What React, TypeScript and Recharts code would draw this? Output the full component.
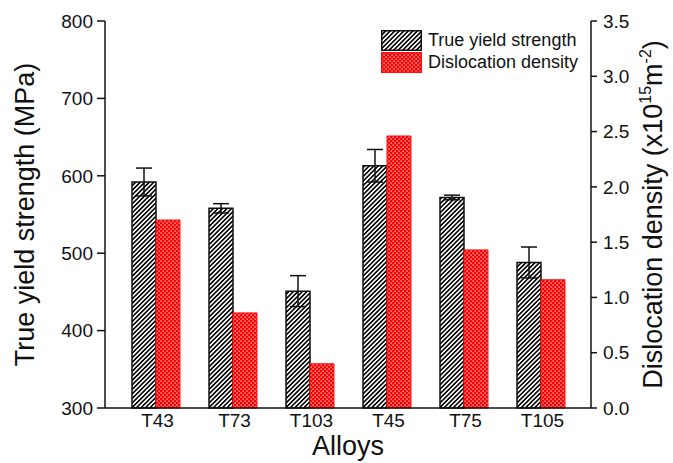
import { ComposedChart, Bar, XAxis, YAxis, ErrorBar, Legend } from 'recharts'

const FONT = '"Liberation Sans", Arial, sans-serif'
const INK = '#111'

// values
const alloys = ['T43', 'T73', 'T103', 'T45', 'T75', 'T105']
const yieldStrength = [592, 558, 451, 613, 572, 488] // MPa
const yieldError = [18, 6, 20, 21, 3, 20]
const dislocationDensity = [1.7, 0.86, 0.4, 2.46, 1.43, 1.16] // x10^15 m^-2

const leftTicks = [300, 400, 500, 600, 700, 800]
const leftMinorTicks = [350, 450, 550, 650, 750]
const rightTicks = [0, 0.5, 1, 1.5, 2, 2.5, 3, 3.5]
const rightMinorTicks = [0.25, 0.75, 1.25, 1.75, 2.25, 2.75, 3.25]

const data = alloys.map((name, i) => ({
  name,
  yieldStrength: yieldStrength[i],
  yieldErr: yieldError[i],
  density: dislocationDensity[i],
}))

function Swatch({ fill, stroke }: { fill: string; stroke: string }) {
  return (
    <svg width={41} height={21} style={{ display: 'block' }}>
      <rect x={0.75} y={0.75} width={39.5} height={19.5} fill={fill} stroke={stroke} strokeWidth={1.5} />
    </svg>
  )
}

function LegendBox() {
  const rows = [
    { label: 'True yield strength', fill: 'url(#hatch)', stroke: INK },
    { label: 'Dislocation density', fill: 'url(#redDots)', stroke: '#ff1010' },
  ]
  return (
    <div style={{ fontFamily: FONT, fontSize: 18, color: INK }}>
      {rows.map((r) => (
        <div key={r.label} style={{ display: 'flex', alignItems: 'center', height: 21, marginBottom: 0.5 }}>
          <Swatch fill={r.fill} stroke={r.stroke} />
          <span style={{ marginLeft: 6, lineHeight: '21px' }}>{r.label}</span>
        </div>
      ))}
    </div>
  )
}

const LeftTitle = ({ viewBox }: any) => {
  const x = viewBox.x + 34
  const y = viewBox.y + viewBox.height / 2
  return (
    <text x={x} y={y} transform={`rotate(-90, ${x}, ${y})`} textAnchor="middle" fontSize={27} fill={INK}>
      True yield strength (MPa)
    </text>
  )
}

const RightTitle = ({ viewBox }: any) => {
  const x = viewBox.x + 71
  const y = viewBox.y + viewBox.height / 2
  return (
    <text x={x} y={y} transform={`rotate(-90, ${x}, ${y})`} textAnchor="middle" fontSize={27} fill={INK}>
      Dislocation density (x10
      <tspan dy={-11} fontSize={16}>15</tspan>
      <tspan dy={11}>m</tspan>
      <tspan dy={-11} fontSize={16}>-2</tspan>
      <tspan dy={11}>)</tspan>
    </text>
  )
}

const BottomTitle = ({ viewBox }: any) => (
  <text x={viewBox.x + viewBox.width / 2} y={viewBox.y + 47} textAnchor="middle" fontSize={27} fill={INK}>
    Alloys
  </text>
)

export default function App() {
  return (
    <div style={{ position: 'absolute', left: 0, top: 0, background: '#fff' }}>
      <ComposedChart
        width={673}
        height={463}
        data={data}
        margin={{ top: 21, right: 0, bottom: 0, left: 0 }}
        barSize={24}
        barGap={0}
        style={{ fontFamily: FONT }}
      >
        <defs>
          <pattern id="hatch" width={3.2} height={3.2} patternUnits="userSpaceOnUse" patternTransform="rotate(45)">
            <rect width={3.2} height={3.2} fill="#fff" />
            <line x1={0.8} y1={0} x2={0.8} y2={3.2} stroke="#000" strokeWidth={1.6} />
          </pattern>
          <pattern id="redDots" width={4} height={4} patternUnits="userSpaceOnUse">
            <rect width={4} height={4} fill="#ff0000" />
            <rect x={0.5} y={0.5} width={1.2} height={1.2} fill="#fff" />
            <rect x={2.5} y={2.5} width={1.2} height={1.2} fill="#fff" />
          </pattern>
        </defs>

        <XAxis
          dataKey="name"
          padding={{ left: 12, right: 12 }}
          height={55}
          tickLine={false}
          tickSize={0}
          tickMargin={6}
          axisLine={{ stroke: INK, strokeWidth: 1.5 }}
          tick={{ fontSize: 19, fill: INK, dx: 2 }}
          interval={0}
          label={<BottomTitle />}
        />
        <XAxis
          xAxisId="top"
          dataKey="name"
          orientation="top"
          height={0}
          tick={false}
          tickLine={false}
          axisLine={{ stroke: INK, strokeWidth: 1.5 }}
        />
        <YAxis
          yAxisId="left"
          domain={[300, 800]}
          ticks={leftTicks}
          width={105}
          tickSize={8}
          tickMargin={4}
          interval={0}
          axisLine={{ stroke: INK, strokeWidth: 1.5 }}
          tickLine={{ stroke: INK, strokeWidth: 1.5 }}
          tick={{ fontSize: 19, fill: INK }}
          label={<LeftTitle />}
        />
        <YAxis
          yAxisId="leftMinor"
          domain={[300, 800]}
          ticks={leftMinorTicks}
          width={0}
          tickSize={4}
          interval={0}
          axisLine={false}
          tickLine={{ stroke: INK, strokeWidth: 1.5 }}
          tickFormatter={() => ''}
        />
        <YAxis
          yAxisId="right"
          orientation="right"
          domain={[0, 3.5]}
          ticks={rightTicks}
          width={82}
          tickSize={6}
          tickMargin={6}
          interval={0}
          axisLine={{ stroke: INK, strokeWidth: 1.5 }}
          tickLine={{ stroke: INK, strokeWidth: 1.5 }}
          tick={{ fontSize: 19, fill: INK }}
          tickFormatter={(v: number) => v.toFixed(1)}
          label={<RightTitle />}
        />
        <YAxis
          yAxisId="rightMinor"
          orientation="right"
          domain={[0, 3.5]}
          ticks={rightMinorTicks}
          width={0}
          tickSize={4}
          interval={0}
          axisLine={false}
          tickLine={{ stroke: INK, strokeWidth: 1.5 }}
          tickFormatter={() => ''}
        />

        <Legend
          layout="horizontal"
          align="center"
          verticalAlign="middle"
          content={<LegendBox />}
          wrapperStyle={{ left: 381, top: 30, width: 'auto', height: 'auto' }}
        />

        <Bar
          yAxisId="left"
          dataKey="yieldStrength"
          name="True yield strength"
          fill="url(#hatch)"
          stroke={INK}
          strokeWidth={1.5}
          isAnimationActive={false}
        >
          <ErrorBar dataKey="yieldErr" width={8} stroke={INK} strokeWidth={1.5} direction="y" />
        </Bar>
        <Bar
          yAxisId="right"
          dataKey="density"
          name="Dislocation density"
          fill="url(#redDots)"
          stroke="#ff1010"
          strokeWidth={1}
          isAnimationActive={false}
        />
      </ComposedChart>
    </div>
  )
}
